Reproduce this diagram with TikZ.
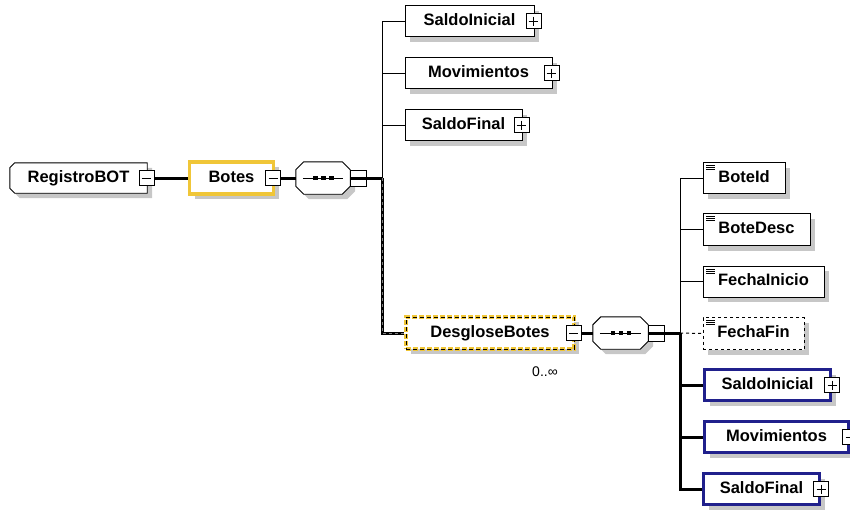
\documentclass[tikz,border=0pt]{standalone}
\usepackage{fontspec}
\setmainfont{Liberation Sans}
\usetikzlibrary{shadows,backgrounds}
\definecolor{selgold}{RGB}{240,198,56}
\definecolor{refnavy}{RGB}{32,32,140}
\tikzset{
 shade5/.style={drop shadow={shadow xshift=5pt,shadow yshift=-5pt,fill=black!22,opacity=1}},
 elem/.style={draw,fill=white,rectangle,minimum height=31pt,inner sep=0pt,text height=12pt,text depth=3.5pt,
   font=\bfseries\fontsize{16.5}{18}\selectfont,shade5},
 leaf/.style={elem,path picture={
   \foreach \k in {3,5,7}
    \draw[line width=0.8pt,solid] ([shift={(3pt,-\k pt)}]path picture bounding box.north west) -- ++(9pt,0);}},
 picked/.style={draw=selgold,line width=3.2pt},
 navy/.style={draw=refnavy,line width=3pt},
 minusbox/.style={draw,fill=white,thin,minimum size=15pt,inner sep=0pt,path picture={
   \draw[thin] ([xshift=3pt]path picture bounding box.west) -- ([xshift=-3pt]path picture bounding box.east);}},
 plusbox/.style={draw,fill=white,thin,minimum size=15pt,inner sep=0pt,path picture={
   \draw[thin] ([xshift=3pt]path picture bounding box.west) -- ([xshift=-3pt]path picture bounding box.east);
   \draw[thin] ([yshift=-3pt]path picture bounding box.north) -- ([yshift=3pt]path picture bounding box.south);}},
 seqbox/.style={rectangle,inner sep=0pt,minimum width=54pt,minimum height=32pt},
 sqbox/.style={draw,fill=white,minimum size=16pt,inner sep=0pt},
 mainline/.style={line width=3pt},
 thinline/.style={line width=1pt}
}
% octagon round a node: #1 node, #2 cut on the left, #3 cut on the right
\newcommand{\octoshape}[3]{%
 \draw[fill=white,line width=0.9pt,shade5] ([xshift=#2]#1.north west) -- ([xshift=-#3]#1.north east)
  -- ([yshift=-#3]#1.north east) -- ([yshift=#3]#1.south east) -- ([xshift=-#3]#1.south east)
  -- ([xshift=#2]#1.south west) -- ([yshift=#2]#1.south west) -- ([yshift=-#2]#1.north west) -- cycle;}
\newcommand{\seqdots}[1]{%
 \draw[line width=1pt] ([xshift=7pt]#1.west) -- ([xshift=-7pt]#1.east);
 \foreach \d in {-10,-2,6}
  \fill ([shift={(\d pt,-2pt)}]#1.center) rectangle ++(4.5pt,4.5pt);}
\begin{document}
\begin{tikzpicture}[x=1pt,y=-1pt]
 \useasboundingbox (0,0) rectangle (850,509);
 % root and first level
 \node[rectangle,inner sep=0pt,minimum width=137pt,minimum height=30pt,text height=12pt,text depth=3.5pt,
   font=\bfseries\fontsize{16.5}{18}\selectfont] (reg) at (78.5,178) {RegistroBOT\hspace{13pt}};
 \begin{pgfonlayer}{background}
  \octoshape{reg}{5pt}{0pt}
 \end{pgfonlayer}
 \node[minusbox] (regTgl) at ([xshift=-1pt]reg.east) {};
 \node[elem,picked,minimum width=84pt,minimum height=32pt] (botes) at (231.5,178) {Botes\hspace{8pt}};
 \node[minusbox] (botesTgl) at ([xshift=-2pt]botes.east) {};
 \node[seqbox] (seqA) at (323,178) {};
 \octoshape{seqA}{8pt}{8pt}
 \seqdots{seqA}
 \node[sqbox,anchor=west] (seqAbox) at (seqA.east) {};
 \coordinate (jA) at (382,178);
 \node[elem,minimum width=129pt] (siA) at (469.5,21) {SaldoInicial\hspace{6pt}};
 \node[plusbox] (siAtgl) at ([xshift=-1pt]siA.east) {};
 \node[elem,minimum width=147pt] (movA) at (478.5,73) {Movimientos\hspace{6pt}};
 \node[plusbox] (movAtgl) at ([xshift=-1pt]movA.east) {};
 \node[elem,minimum width=117pt] (sfA) at (463.5,125) {SaldoFinal\hspace{6pt}};
 \node[plusbox] (sfAtgl) at ([xshift=-1pt]sfA.east) {};
 % DesgloseBotes branch
 \node[elem,picked,dash pattern=on 5pt off 2pt,minimum width=168pt,minimum height=32pt,
   postaction={draw=black,line width=0.7pt,dash pattern=on 4pt off 3pt}] (desg) at (490,333) {DesgloseBotes\hspace{8pt}};
 \node[minusbox] (desgTgl) at ([xshift=-2pt]desg.east) {};
 \node[font=\fontsize{14}{16}\selectfont] (mult) at (545,372) {0..∞};
 \node[seqbox,minimum width=55pt] (seqB) at (620.5,333) {};
 \octoshape{seqB}{8pt}{8pt}
 \seqdots{seqB}
 \node[sqbox,anchor=west] (seqBbox) at (seqB.east) {};
 \coordinate (jB) at (680,333);
 \node[leaf,minimum width=82pt] (boteId) at (744,178) {BoteId};
 \node[leaf,minimum width=107pt,minimum height=32pt] (boteDesc) at (756.5,229.5) {BoteDesc};
 \node[leaf,minimum width=121pt] (fIni) at (763.5,281.5) {FechaInicio};
 \node[leaf,dashed,drop shadow={opacity=0},minimum width=101pt,minimum height=32pt] (fFin) at (753.5,333.5) {FechaFin};
 \node[elem,navy,minimum width=126pt] (siB) at (767.5,385) {SaldoInicial\hspace{8pt}};
 \node[plusbox] (siBtgl) at (siB.east) {};
 \node[elem,navy,minimum width=144pt] (movB) at (776.5,437) {Movimientos\hspace{8pt}};
 \node[plusbox] (movBtgl) at (movB.east) {};
 \node[elem,navy,minimum width=116pt] (sfB) at (761.5,489) {SaldoFinal\hspace{8pt}};
 \node[plusbox] (sfBtgl) at (sfB.east) {};
 % connectors
 \draw[mainline] (regTgl.east) -- (botes.west);
 \draw[mainline] (botesTgl.east) -- (seqA.west);
 \draw[mainline] (seqA.east) -- (jA);
 \draw[thinline] (jA) |- (siA.west);
 \draw[thinline] (jA) |- (movA.west);
 \draw[thinline] (jA) |- (sfA.west);
 \draw[mainline] (jA) |- (desg.west);
 \draw[line width=1pt,gray,dash pattern=on 3pt off 3pt] (jA) |- (desg.west);
 \draw[mainline] (desgTgl.east) -- (seqB.west);
 \draw[mainline] (seqB.east) -- (jB);
 \draw[thinline] (jB) |- (boteId.west);
 \draw[thinline] (jB) |- (boteDesc.west);
 \draw[thinline] (jB) |- (fIni.west);
 \draw[thinline,dashed] (jB) -- (fFin.west);
 \draw[mainline] (jB) |- (siB.west);
 \draw[mainline] (jB) |- (movB.west);
 \draw[mainline] (jB) |- (sfB.west);
\end{tikzpicture}
\end{document}
